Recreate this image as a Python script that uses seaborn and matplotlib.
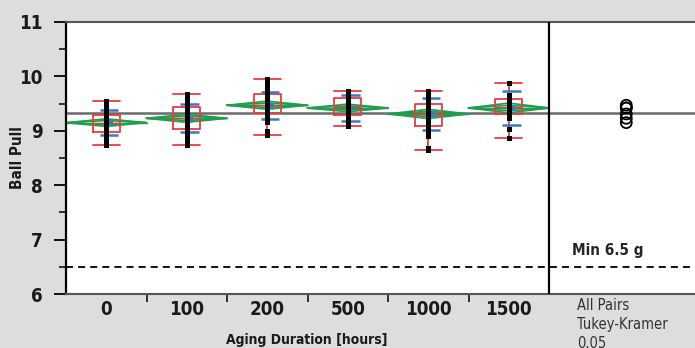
import numpy as np
import pandas as pd
import matplotlib
matplotlib.use("Agg")
import matplotlib.pyplot as plt
import seaborn as sns

# groups and raw ball pull readings
groups = ['0', '100', '200', '500', '1000', '1500']
pulls = {
    '0': [8.73, 8.78, 8.86, 8.92, 8.97, 9.02, 9.06, 9.10, 9.13, 9.16,
          9.19, 9.22, 9.26, 9.30, 9.35, 9.40, 9.46, 9.50, 9.54],
    '100': [8.73, 8.82, 8.85, 8.90, 8.95, 9.00, 9.05, 9.10, 9.15, 9.19,
            9.24, 9.29, 9.34, 9.39, 9.44, 9.49, 9.55, 9.61, 9.67],
    '200': [8.93, 8.99, 9.16, 9.21, 9.26, 9.31, 9.36, 9.40, 9.44, 9.48,
            9.53, 9.58, 9.63, 9.68, 9.73, 9.82, 9.88, 9.95],
    '500': [9.09, 9.13, 9.18, 9.23, 9.27, 9.31, 9.35, 9.39, 9.43, 9.47,
            9.51, 9.55, 9.59, 9.64, 9.69, 9.74],
    '1000': [8.65, 8.68, 8.90, 8.95, 9.01, 9.07, 9.15, 9.20, 9.25, 9.29,
             9.33, 9.37, 9.41, 9.46, 9.51, 9.56, 9.62, 9.68, 9.74],
    '1500': [8.87, 9.04, 9.24, 9.28, 9.32, 9.36, 9.40, 9.44, 9.48, 9.52,
             9.56, 9.60, 9.65, 9.87],
}

# summary stats per group
means = [9.15, 9.23, 9.47, 9.42, 9.31, 9.42]
ci_half = [0.07, 0.075, 0.075, 0.07, 0.085, 0.09]
std_devs = [0.225, 0.255, 0.25, 0.235, 0.29, 0.32]
std_errs = [0.04, 0.045, 0.045, 0.04, 0.05, 0.05]
q_low = [8.73, 8.73, 8.92, 9.09, 8.65, 8.87]
q1 = [8.97, 9.03, 9.32, 9.29, 9.09, 9.31]
medians = [9.15, 9.24, 9.48, 9.43, 9.30, 9.44]
q3 = [9.29, 9.43, 9.67, 9.61, 9.50, 9.59]
q_high = [9.54, 9.67, 9.95, 9.74, 9.74, 9.87]
grand_mean = 9.33
spec_min = 6.5

df = pd.DataFrame([(g, v) for g in groups for v in pulls[g]],
                  columns=['Aging', 'Pull'])

sns.set_theme(style="ticks")
plt.rcParams['font.family'] = ['Liberation Sans Narrow', 'DejaVu Sans']
plt.rcParams['font.stretch'] = 'condensed'

bg = '#dcdddf'
red = '#ee3a3f'
blue = '#3f77c0'
green = '#1f9e4c'

fig = plt.figure(figsize=(6.95, 3.48), dpi=100, facecolor=bg)
ax = fig.add_axes([66 / 695, 54 / 348, 629 / 695, 272 / 348])
ax.set_facecolor('white')

ax.axhline(grand_mean, color='#6a6a6a', lw=1.8, zorder=1)
ax.axhline(spec_min, color='black', lw=1.3, dashes=(3.9, 2.8), zorder=1)

# mean diamonds
for i, m in enumerate(means):
    c = ci_half[i]
    for h in (c, c * 0.55):
        ax.plot([i - 0.5, i, i + 0.5, i, i - 0.5], [m, m + h, m, m - h, m],
                color=green, lw=1.2, zorder=2)
    ax.plot([i - 0.5, i + 0.5], [m, m], color=green, lw=1.0, zorder=2)

# quantile boxes
stats = [dict(whislo=q_low[i], q1=q1[i], med=medians[i], q3=q3[i],
              whishi=q_high[i], fliers=[]) for i in range(len(groups))]
ax.bxp(stats, positions=range(len(groups)), widths=0.34, showfliers=False,
       boxprops=dict(color=red, lw=1.3), medianprops=dict(color=red, lw=1.0),
       whiskerprops=dict(color=red, lw=1.3), capprops=dict(color=red, lw=1.3),
       capwidths=0.34, manage_ticks=False, zorder=3)

# std dev lines and mean error bars
for i, m in enumerate(means):
    s = std_devs[i]
    ax.hlines([m - s, m + s], i - 0.08, i + 0.15, color=blue, lw=1.8, zorder=4)
    ax.vlines(i + 0.03, m - std_errs[i], m + std_errs[i], color=blue, lw=6,
              zorder=4)

sns.stripplot(data=df, x='Aging', y='Pull', order=groups, jitter=False,
              marker='s', color='black', size=3.6, linewidth=0, ax=ax,
              zorder=5)

# comparison circles panel
ax.axvline(5.5, color='black', lw=1.6, zorder=6)
ax.scatter([6.46] * len(means), means, s=62, facecolors='none',
           edgecolors='black', linewidths=1.3, zorder=6)
ax.text(5.78, 6.8, 'Min 6.5 g', fontsize=11, fontweight='bold',
        va='center', ha='left')

ax.set_xlim(-0.5, -0.5 + 629 / 80.5)
ax.set_ylim(6, 11)
ax.set_xticks(range(len(groups)))
ax.set_xticklabels(groups)
ax.set_xticks(np.arange(0.5, 5, 1), minor=True)
ax.set_yticks(range(6, 12))
ax.set_yticks(np.arange(6.5, 11, 1), minor=True)
ax.tick_params(axis='x', which='major', length=0, pad=4.5, labelsize=13.5)
ax.tick_params(axis='x', which='minor', length=6, width=1.1, color='black',
               direction='out')
ax.tick_params(axis='y', which='major', length=9, width=1.3, pad=8,
               labelsize=13.5, color='black')
ax.tick_params(axis='y', which='minor', length=5, width=1.1, color='black')
for lab in ax.get_xticklabels() + ax.get_yticklabels():
    lab.set_fontweight('bold')
    lab.set_color('#1a1a1a')

ax.spines['right'].set_visible(False)
ax.spines['left'].set_color('black')
ax.spines['left'].set_linewidth(1.6)
for side in ('top', 'bottom'):
    ax.spines[side].set_color('#555555')
    ax.spines[side].set_linewidth(1.5)

ax.set_xlabel('')
ax.set_ylabel('Ball Pull', fontsize=11, fontweight='bold', color='#1a1a1a')
ax.yaxis.set_label_coords(-41 / 629, 0.5)
fig.text(307 / 695, 1 - 340 / 348, 'Aging Duration [hours]', fontsize=10,
         fontweight='bold', ha='center', va='center', color='#1a1a1a')

for txt, ypx in zip(['All Pairs', 'Tukey-Kramer', '0.05'], [305, 325, 344]):
    fig.text(577 / 695, 1 - ypx / 348, txt, fontsize=10.5, color='#333333',
             ha='left', va='center')

fig.savefig('out.png', dpi=100, facecolor=bg)
